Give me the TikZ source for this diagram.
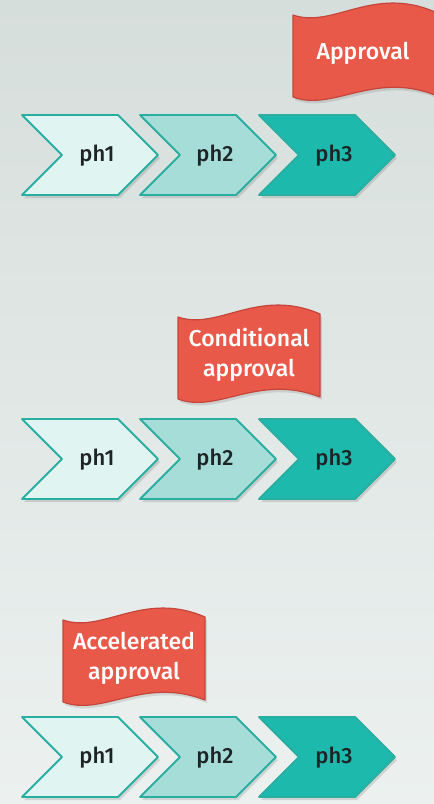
\documentclass[tikz,border=0pt]{standalone}
\usepackage{fontspec}
\setmainfont{Fira Sans Medium}
\definecolor{bgtop}{HTML}{D6DEDB}
\definecolor{bgbot}{HTML}{ECF1F0}
\definecolor{chedge}{HTML}{2AAEA2}
\definecolor{cone}{HTML}{E0F4F2}
\definecolor{ctwo}{HTML}{A6DDD8}
\definecolor{cthree}{HTML}{1CB9AC}
\definecolor{flagfill}{HTML}{E9594A}
\definecolor{flagedge}{HTML}{C6453A}
\definecolor{txt}{HTML}{1E2426}
\tikzset{
  chevbox/.style={draw=chedge,line width=1.8pt,line join=round},
  chevshadow/.style={fill=black,opacity=0.12},
  phlabel/.style={font=\fontsize{22}{24}\selectfont,text=txt,inner sep=0pt},
  flagbox/.style={fill=flagfill,draw=flagedge,line width=1.2pt,line join=round},
  flagshadow/.style={fill=black,opacity=0.10},
  flaglabel/.style={font=\fontsize{23}{30}\selectfont,text=white,align=center,inner sep=0pt},
}
\newcommand{\chevpath}[2]{(#1,#2-40) -- (#1+96,#2-40) -- (#1+136,#2) -- (#1+96,#2+40) -- (#1,#2+40) -- (#1+40,#2) -- cycle}
\newcommand{\chevron}[5]{%
  \fill[chevshadow] \chevpath{#1+2}{#2+3};
  \draw[chevbox,fill=#3] \chevpath{#1}{#2};
  \node[phlabel] (#4) at (#1+75,#2+1) {#5};}
\newcommand{\flagpath}[2]{(#1,#2) .. controls (#1+40,#2+14) and (#1+80,#2-30) .. (#1+142,#2-3) -- (#1+142,#2+80) .. controls (#1+80,#2+56) and (#1+40,#2+97) .. (#1,#2+82) -- cycle}
\newcommand{\flag}[2]{%
  \fill[flagshadow] \flagpath{#1+2}{#2+3};
  \draw[flagbox] \flagpath{#1}{#2};}
\begin{document}
\begin{tikzpicture}[x=1pt,y=-1pt]
\shade[top color=bgtop,bottom color=bgbot] (0,0) rectangle (434,804);
\useasboundingbox (0,0) rectangle (434,804);
% row 1
\chevron{22}{155}{cone}{a1}{ph1}
\chevron{140}{155}{ctwo}{a2}{ph2}
\chevron{259}{155}{cthree}{a3}{ph3}
\flag{293}{15}
\node[flaglabel] (f1) at (363,53) {Approval};
% row 2
\chevron{22}{459}{cone}{b1}{ph1}
\chevron{140}{459}{ctwo}{b2}{ph2}
\chevron{259}{459}{cthree}{b3}{ph3}
\flag{178}{317}
\node[flaglabel] (f2) at (249,355) {Conditional\\approval};
% row 3
\chevron{22}{757}{cone}{c1}{ph1}
\chevron{140}{757}{ctwo}{c2}{ph2}
\chevron{259}{757}{cthree}{c3}{ph3}
\flag{63}{620}
\node[flaglabel] (f3) at (134,658) {Accelerated\\approval};
\end{tikzpicture}
\end{document}
